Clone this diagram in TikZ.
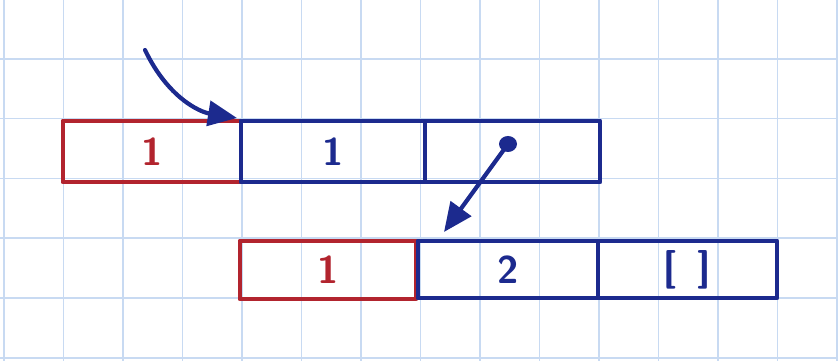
\documentclass[tikz,border=0pt]{standalone}
\usetikzlibrary{arrows.meta}
\definecolor{gridblue}{RGB}{200,218,242}
\definecolor{penred}{RGB}{178,36,46}
\definecolor{penblue}{RGB}{28,42,142}
\begin{document}
\begin{tikzpicture}[x=0.02cm,y=-0.02cm,
  box/.style={draw, line width=2.8pt, inner sep=0pt, outer sep=0pt, line join=round,
              font=\sffamily\bfseries\fontsize{22}{22}\selectfont},
  redbox/.style={box, draw=penred, text=penred},
  bluebox/.style={box, draw=penblue, text=penblue},
  pointer/.style={draw=penblue, line width=2.4pt, line cap=round,
                  -{Triangle[length=0.58cm,width=0.5cm]}}]
\fill[white] (0,0) rectangle (838,361);
\useasboundingbox (0,0) rectangle (838,361);
% grid paper
\foreach \k in {0,...,14} \draw[gridblue, line width=0.9pt] ({4+59.5*\k},0) -- ({4+59.5*\k},361);
\foreach \k in {1,...,6} \draw[gridblue, line width=0.9pt] (0,{-1+59.8*\k}) -- (838,{-1+59.8*\k});
% boxes
\node[redbox, minimum width=3.56cm, minimum height=1.22cm] (r1) at (152,151.5) {1};
\node[bluebox, minimum width=3.68cm, minimum height=1.22cm] (b1a) at (333,151.5) {1};
\node[bluebox, minimum width=3.5cm, minimum height=1.22cm] (b1b) at (512.5,151.5) {};
\node[redbox, minimum width=3.52cm, minimum height=1.16cm] (r2) at (328,270) {1};
\node[bluebox, minimum width=3.6cm, minimum height=1.14cm] (b2a) at (508,269.5) {2};
\node[bluebox, minimum width=3.58cm, minimum height=1.14cm] (b2b) at (687.5,269.5) {[\hspace{0.42cm}]};
% pointers
\coordinate (start) at (145,50);
\coordinate (tip1) at (237,118);
\coordinate (dot) at (508,144);
\coordinate (tip2) at (444,232);
\fill[penblue] (dot) ellipse (9 and 8);
\draw[pointer] (start) .. controls (168,98) and (200,112) .. (tip1);
\draw[pointer] (dot) -- (tip2);
\end{tikzpicture}
\end{document}
